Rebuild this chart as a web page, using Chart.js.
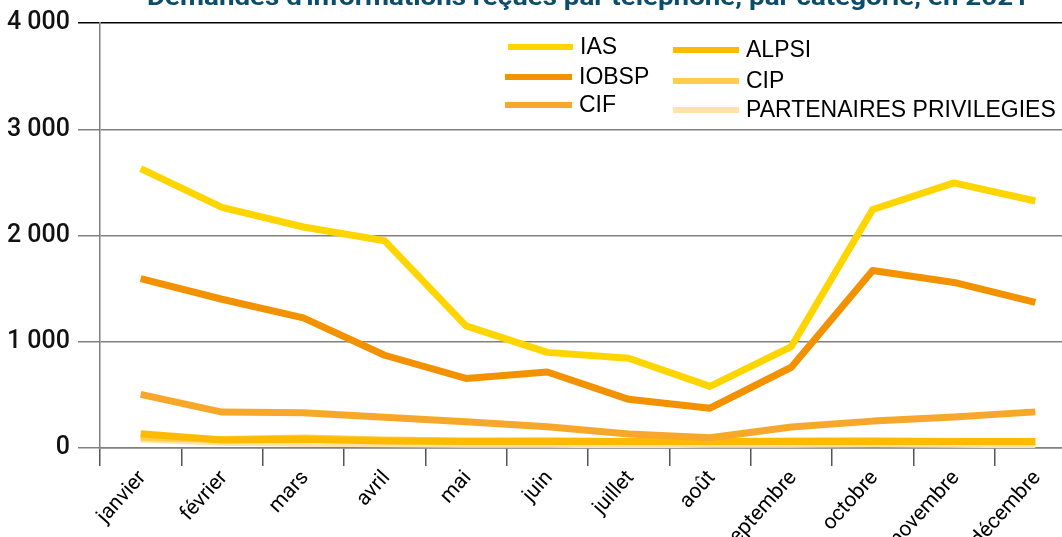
<!DOCTYPE html>
<html>
<head>
<meta charset="utf-8">
<script src="https://cdn.jsdelivr.net/npm/chart.js@4/dist/chart.umd.min.js"></script>
<style>
  html, body { margin: 0; padding: 0; background: #fff; overflow: hidden; }
  #wrap { width: 1076px; height: 537px; position: relative; }
</style>
</head>
<body>
<div id="wrap"><canvas id="telChart"></canvas></div>
<script>
// data
const months = ['janvier', 'février', 'mars', 'avril', 'mai', 'juin', 'juillet', 'août', 'septembre', 'octobre', 'novembre', 'décembre'];
const ias = [2630, 2265, 2080, 1950, 1150, 900, 845, 580, 955, 2245, 2495, 2325];
const iobsp = [1595, 1400, 1225, 873, 655, 715, 458, 375, 760, 1670, 1558, 1370];
const cif = [505, 338, 332, 290, 248, 200, 132, 97, 197, 253, 292, 340];
const alpsi = [135, 75, 82, 65, 62, 62, 62, 62, 62, 62, 62, 62];
const cip = [100, 80, 95, 75, 65, 68, 62, 62, 65, 68, 62, 62];
const partenaires = [85, 55, 45, 40, 35, 35, 30, 35, 35, 40, 35, 30];
const yTicks = [0, 1000, 2000, 3000, 4000];

const titleText = "Demandes d'informations reçues par téléphone, par catégorie, en 2021";

const series = [
    { label: 'IAS', data: ias, color: '#FFD500' },
    { label: 'IOBSP', data: iobsp, color: '#F39200' },
    { label: 'CIF', data: cif, color: '#F7A82A' },
    { label: 'ALPSI', data: alpsi, color: '#FDBB00' },
    { label: 'CIP', data: cip, color: '#FFCC4D' },
    { label: 'PARTENAIRES PRIVILEGIES', data: partenaires, color: '#FFE2A8' }
];

// legend slots: two columns of three
const legendSlots = [
    { x1: 508, x2: 573, y: 47 },
    { x1: 505, x2: 572, y: 77 },
    { x1: 505, x2: 572, y: 105 },
    { x1: 673, x2: 739, y: 50 },
    { x1: 673, x2: 739, y: 81 },
    { x1: 673, x2: 739, y: 110 }
];

const titlePlugin = {
    id: 'cutTitle',
    afterDraw(chart) {
        const { ctx, chartArea } = chart;
        ctx.save();
        ctx.font = 'bold 23px Roboto';
        ctx.fillStyle = '#0B4D6B';
        ctx.textBaseline = 'alphabetic';
        ctx.textAlign = 'center';
        const w = ctx.measureText(titleText).width;
        const cx = (chartArea.left + chartArea.right) / 2;
        ctx.translate(cx, 5);
        ctx.scale(882 / w, 1);
        ctx.fillText(titleText, 0, 0);
        ctx.restore();
    }
};

const legendPlugin = {
    id: 'gridLegend',
    afterDraw(chart) {
        const ctx = chart.ctx;
        ctx.save();
        ctx.font = '23px "Liberation Sans", Arial, sans-serif';
        ctx.textBaseline = 'middle';
        ctx.textAlign = 'left';
        series.forEach((s, i) => {
            const slot = legendSlots[i];
            ctx.strokeStyle = s.color;
            ctx.lineWidth = 6;
            ctx.beginPath();
            ctx.moveTo(slot.x1, slot.y);
            ctx.lineTo(slot.x2, slot.y);
            ctx.stroke();
            ctx.fillStyle = '#000';
            ctx.fillText(s.label, slot.x2 + 7, slot.y + 1);
        });
        ctx.restore();
    }
};

new Chart(document.getElementById('telChart'), {
    type: 'line',
    data: {
        labels: months,
        datasets: series.map(s => ({
            label: s.label,
            data: s.data,
            borderColor: s.color,
            backgroundColor: s.color,
            borderWidth: 7,
            borderJoinStyle: 'round',
            tension: 0,
            pointRadius: 0,
            fill: false
        }))
    },
    options: {
        responsive: true,
        maintainAspectRatio: false,
        animation: false,
        layout: { padding: { top: 22, right: 0, left: 0, bottom: 0 } },
        plugins: {
            legend: { display: false },
            title: { display: false },
            tooltip: { enabled: false }
        },
        scales: {
            x: {
                offset: true,
                afterFit: (scale) => { scale.height = 89; },
                grid: {
                    offset: true,
                    drawOnChartArea: false,
                    tickLength: 18,
                    color: '#555',
                    lineWidth: 1.5
                },
                border: { color: '#808080', width: 1.5 },
                ticks: {
                    autoSkip: false,
                    minRotation: 48,
                    maxRotation: 48,
                    labelOffset: 2,
                    padding: 0,
                    color: '#000',
                    font: { family: 'Roboto', size: 21 }
                }
            },
            y: {
                min: 0,
                max: 4000,
                afterFit: (scale) => { scale.width = 100; },
                afterBuildTicks: (scale) => { scale.ticks = yTicks.map(v => ({ value: v })); },
                grid: {
                    tickLength: 22,
                    lineWidth: 1.5,
                    color: (c) => (c.tick && c.tick.value === 4000 ? '#000' : '#808080')
                },
                border: { color: '#808080', width: 1.5 },
                ticks: {
                    padding: 8,
                    color: '#111',
                    font: { family: 'Roboto', size: 25, weight: '500' },
                    callback: (v) => String(v).replace(/\B(?=(\d{3})+(?!\d))/g, ' ')
                }
            }
        }
    },
    plugins: [titlePlugin, legendPlugin]
});
</script>
</body>
</html>
